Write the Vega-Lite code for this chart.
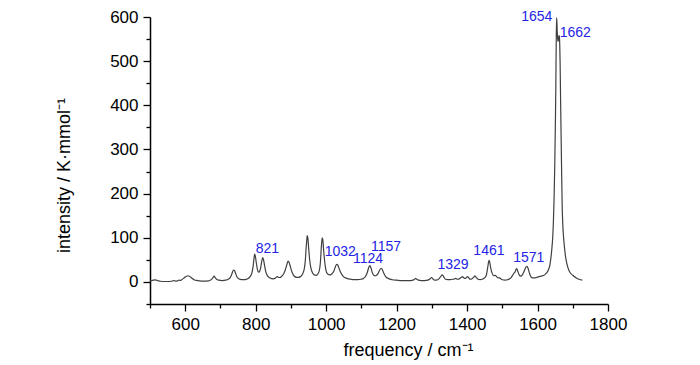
{
  "$schema": "https://vega.github.io/schema/vega-lite/v6.json",
  "width": 458,
  "height": 287,
  "autosize": {"type": "none"},
  "padding": {"left": 150, "top": 17, "right": 92, "bottom": 61},
  "background": "white",
  "config": {
    "view": {"stroke": null},
    "font": "Liberation Sans",
    "axis": {"grid": false, "domainColor": "black", "tickColor": "black", "labelColor": "black", "titleColor": "black", "labelFont": "Liberation Sans", "titleFont": "Liberation Sans", "titleFontWeight": "normal", "domainWidth": 1.5, "tickWidth": 1.3}
  },
  "datasets": {
    "spectrum": [
      {"f":500,"I":2},{"f":505,"I":3},{"f":510,"I":4},{"f":514,"I":4.5},{"f":518,"I":4},{"f":524,"I":2.5},{"f":530,"I":1.5},{"f":540,"I":1},{"f":550,"I":1},{"f":560,"I":1.5},{"f":565,"I":2.5},{"f":568,"I":3},{"f":572,"I":2},{"f":578,"I":2.5},{"f":582,"I":4},{"f":586,"I":3.5},{"f":590,"I":5},{"f":595,"I":8},{"f":600,"I":11},{"f":604,"I":13},{"f":608,"I":14},{"f":612,"I":13},{"f":618,"I":9},{"f":625,"I":5},{"f":635,"I":3},{"f":645,"I":2},{"f":655,"I":2},{"f":665,"I":2.5},{"f":671,"I":4},{"f":676,"I":7},{"f":679,"I":10},{"f":682,"I":13},{"f":685,"I":10},{"f":689,"I":6},{"f":695,"I":4},{"f":705,"I":3},{"f":715,"I":4},{"f":722,"I":6},{"f":727,"I":9},{"f":731,"I":15},{"f":734,"I":22},{"f":737,"I":27},{"f":740,"I":26},{"f":743,"I":19},{"f":747,"I":11},{"f":752,"I":7},{"f":760,"I":5},{"f":770,"I":5},{"f":777,"I":7},{"f":784,"I":12},{"f":789,"I":20},{"f":793,"I":37},{"f":795,"I":52},{"f":797,"I":63},{"f":799,"I":58},{"f":802,"I":42},{"f":805,"I":28},{"f":808,"I":22},{"f":811,"I":24},{"f":814,"I":32},{"f":817,"I":46},{"f":820,"I":55},{"f":822,"I":51},{"f":825,"I":38},{"f":829,"I":22},{"f":834,"I":13},{"f":841,"I":9},{"f":849,"I":7},{"f":855,"I":8},{"f":859,"I":11},{"f":862,"I":12},{"f":865,"I":10},{"f":869,"I":10},{"f":874,"I":13},{"f":879,"I":18},{"f":884,"I":27},{"f":888,"I":38},{"f":892,"I":47},{"f":895,"I":44},{"f":899,"I":33},{"f":904,"I":20},{"f":911,"I":12},{"f":919,"I":10},{"f":927,"I":12},{"f":933,"I":18},{"f":938,"I":30},{"f":941,"I":50},{"f":943,"I":75},{"f":945,"I":95},{"f":946,"I":105},{"f":948,"I":100},{"f":950,"I":80},{"f":953,"I":52},{"f":956,"I":34},{"f":960,"I":23},{"f":966,"I":16},{"f":972,"I":15},{"f":978,"I":20},{"f":982,"I":32},{"f":984,"I":48},{"f":986,"I":75},{"f":988,"I":95},{"f":989,"I":100},{"f":991,"I":92},{"f":993,"I":70},{"f":996,"I":45},{"f":999,"I":28},{"f":1004,"I":18},{"f":1011,"I":16},{"f":1017,"I":19},{"f":1022,"I":25},{"f":1026,"I":34},{"f":1030,"I":40},{"f":1033,"I":38},{"f":1037,"I":30},{"f":1042,"I":20},{"f":1049,"I":12},{"f":1059,"I":8},{"f":1070,"I":6},{"f":1080,"I":5},{"f":1090,"I":5},{"f":1099,"I":6},{"f":1106,"I":8},{"f":1112,"I":13},{"f":1117,"I":22},{"f":1121,"I":33},{"f":1124,"I":37},{"f":1127,"I":32},{"f":1131,"I":21},{"f":1135,"I":15},{"f":1139,"I":14},{"f":1143,"I":15},{"f":1148,"I":20},{"f":1152,"I":27},{"f":1157,"I":31},{"f":1160,"I":27},{"f":1164,"I":19},{"f":1169,"I":12},{"f":1176,"I":8},{"f":1188,"I":5},{"f":1200,"I":4},{"f":1215,"I":3},{"f":1230,"I":3},{"f":1240,"I":3},{"f":1247,"I":4},{"f":1251,"I":6},{"f":1254,"I":8},{"f":1257,"I":6},{"f":1262,"I":4},{"f":1270,"I":3},{"f":1280,"I":3},{"f":1288,"I":4},{"f":1294,"I":6},{"f":1299,"I":10},{"f":1303,"I":7},{"f":1308,"I":4},{"f":1313,"I":4},{"f":1320,"I":7},{"f":1325,"I":12},{"f":1330,"I":16},{"f":1334,"I":11},{"f":1339,"I":6},{"f":1345,"I":5},{"f":1352,"I":5},{"f":1358,"I":6},{"f":1362,"I":6},{"f":1368,"I":8},{"f":1372,"I":6},{"f":1378,"I":7},{"f":1383,"I":10},{"f":1387,"I":12},{"f":1391,"I":9},{"f":1395,"I":8},{"f":1401,"I":12},{"f":1404,"I":10},{"f":1409,"I":6},{"f":1414,"I":7},{"f":1419,"I":11},{"f":1422,"I":14},{"f":1426,"I":10},{"f":1431,"I":6},{"f":1437,"I":5},{"f":1443,"I":6},{"f":1449,"I":9},{"f":1454,"I":14},{"f":1457,"I":25},{"f":1460,"I":40},{"f":1462,"I":49},{"f":1464,"I":46},{"f":1467,"I":32},{"f":1471,"I":20},{"f":1476,"I":14},{"f":1480,"I":15},{"f":1484,"I":12},{"f":1488,"I":9},{"f":1491,"I":10},{"f":1494,"I":8},{"f":1500,"I":5},{"f":1508,"I":4},{"f":1515,"I":5},{"f":1521,"I":7},{"f":1526,"I":11},{"f":1530,"I":16},{"f":1533,"I":20},{"f":1536,"I":22},{"f":1538,"I":27},{"f":1541,"I":30},{"f":1544,"I":24},{"f":1548,"I":16},{"f":1552,"I":13},{"f":1557,"I":16},{"f":1562,"I":24},{"f":1566,"I":32},{"f":1570,"I":35},{"f":1573,"I":31},{"f":1577,"I":20},{"f":1581,"I":12},{"f":1586,"I":9},{"f":1592,"I":9},{"f":1600,"I":11},{"f":1610,"I":13},{"f":1620,"I":16},{"f":1630,"I":26},{"f":1635,"I":38},{"f":1640,"I":70},{"f":1643,"I":100},{"f":1645,"I":135},{"f":1647,"I":190},{"f":1649,"I":270},{"f":1651,"I":380},{"f":1652,"I":450},{"f":1653,"I":540},{"f":1654,"I":598},{"f":1655,"I":588},{"f":1656,"I":566},{"f":1657,"I":552},{"f":1658,"I":545},{"f":1659,"I":547},{"f":1660,"I":553},{"f":1661,"I":558},{"f":1662,"I":556},{"f":1663,"I":538},{"f":1664,"I":500},{"f":1665,"I":440},{"f":1666,"I":380},{"f":1668,"I":270},{"f":1670,"I":170},{"f":1672,"I":125},{"f":1674,"I":100},{"f":1676,"I":82},{"f":1679,"I":60},{"f":1682,"I":46},{"f":1686,"I":33},{"f":1691,"I":23},{"f":1700,"I":15},{"f":1710,"I":9},{"f":1718,"I":6},{"f":1727,"I":4}
    ],
    "labels": [
      {"f":833,"I":74,"t":"821"},
      {"f":1040,"I":67,"t":"1032"},
      {"f":1119,"I":51,"t":"1124"},
      {"f":1170,"I":79,"t":"1157"},
      {"f":1360,"I":38,"t":"1329"},
      {"f":1462,"I":70,"t":"1461"},
      {"f":1575,"I":55,"t":"1571"},
      {"f":1598,"I":600,"t":"1654"},
      {"f":1707,"I":564,"t":"1662"}
    ]
  },
  "layer": [
    {
      "data": {"name": "spectrum"},
      "mark": {"type": "line", "color": "#404040", "strokeWidth": 1.2, "interpolate": "monotone"},
      "encoding": {
        "x": {"field": "f", "type": "quantitative", "scale": {"domain": [500, 1800], "nice": false, "zero": false},
          "axis": {"orient": "bottom", "title": "frequency / cm⁻¹", "values": [600,800,1000,1200,1400,1600,1800], "format": "d",
            "tickSize": 7, "labelFontSize": 17, "labelPadding": 5, "labelFlush": false, "labelOverlap": false,
            "titleFontSize": 18, "titleX": 258, "titleY": 51, "titleBaseline": "alphabetic", "titleAlign": "center", "titleAnchor": null}},
        "y": {"field": "I", "type": "quantitative", "scale": {"domain": [-50, 600], "nice": false, "zero": false},
          "axis": {"orient": "left", "title": "intensity / K·mmol⁻¹", "values": [0,100,200,300,400,500,600], "format": "d",
            "tickSize": 7, "labelFontSize": 17, "labelPadding": 5, "labelFlush": false, "labelOverlap": false,
            "titleFontSize": 18, "titleAngle": -90, "titleX": -81, "titleY": 158, "titleBaseline": "alphabetic", "titleAlign": "center", "titleAnchor": null}}
      }
    },
    {
      "data": {"name": "labels"},
      "mark": {"type": "text", "color": "#2424e6", "fontSize": 14, "font": "Liberation Sans", "align": "center", "baseline": "middle"},
      "encoding": {
        "x": {"field": "f", "type": "quantitative",
          "axis": {"orient": "bottom", "title": null, "values": [500,700,900,1100,1300,1500,1700], "tickSize": 4, "labels": false, "domain": false}},
        "y": {"field": "I", "type": "quantitative",
          "axis": {"orient": "left", "title": null, "values": [-50,50,150,250,350,450,550], "tickSize": 4, "labels": false, "domain": false}},
        "text": {"field": "t", "type": "nominal"}
      }
    }
  ],
  "resolve": {"axis": {"x": "independent", "y": "independent"}}
}
